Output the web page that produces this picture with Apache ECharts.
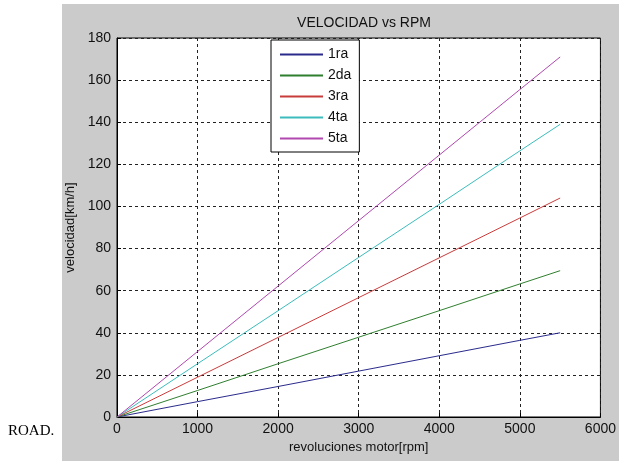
<!DOCTYPE html>
<html>
<head>
<meta charset="utf-8">
<script src="https://cdn.jsdelivr.net/npm/echarts@6/dist/echarts.min.js"></script>
<style>
  html, body { margin: 0; padding: 0; background: #fff; }
  #wrap { position: relative; width: 619px; height: 461px; }
  #bg { position: absolute; left: 62px; top: 4px; width: 557px; height: 457px; background: #cbcbcb; }
  #chart { position: absolute; left: 0; top: 0; width: 619px; height: 461px; }
</style>
</head>
<body>
<div id="wrap"><div id="bg"></div><div id="chart"></div></div>
<script>
// rpm sample points
const rpm = [0, 1000, 2000, 3000, 4000, 5000, 5500];
// speeds [km/h] per gear
const gear1 = [0, 7.3, 14.5, 21.8, 29.1, 36.4, 40];
const gear2 = [0, 12.6, 25.3, 37.9, 50.5, 63.2, 69.5];
const gear3 = [0, 18.9, 37.8, 56.7, 75.6, 94.5, 104];
const gear4 = [0, 25.3, 50.5, 75.8, 101, 126.4, 139];
const gear5 = [0, 31.1, 62.2, 93.3, 124.4, 155.5, 171];
const seriesNames = ['1ra', '2da', '3ra', '4ta', '5ta'];
const colors = ['#2a2a8c', '#2f7f2f', '#c83c3c', '#3cbcbc', '#b048b0'];
const title = 'VELOCIDAD vs RPM';
const xName = 'revoluciones motor[rpm]';
const yName = 'velocidad[km/h]';

const gears = [gear1, gear2, gear3, gear4, gear5];
const font = 'Liberation Sans, Arial, sans-serif';

const chart = echarts.init(document.getElementById('chart'), null, { renderer: 'canvas' });
chart.setOption({
  backgroundColor: 'transparent',
  animation: false,
  color: colors,
  title: {
    text: title,
    left: 359, top: 11, textAlign: 'center',
    textStyle: { fontFamily: font, fontSize: 14, fontWeight: 'normal', color: '#111' }
  },
  grid: {
    left: 117, top: 38, right: 18, bottom: 44,
    show: true, backgroundColor: '#ffffff', borderColor: '#000', borderWidth: 1
  },
  legend: {
    orient: 'vertical', left: 271, top: 40,
    data: seriesNames,
    icon: 'rect', itemWidth: 43, itemHeight: 2,
    itemGap: 6,
    padding: [7, 8, 6, 9],
    backgroundColor: '#ffffff', borderColor: '#000', borderWidth: 1,
    textStyle: { fontFamily: font, fontSize: 14, color: '#111', lineHeight: 15 }
  },
  xAxis: {
    type: 'value', min: 0, max: 6000, interval: 1000,
    name: xName, nameLocation: 'middle', nameGap: 22,
    nameTextStyle: { fontFamily: font, fontSize: 13, color: '#111' },
    axisLine: { show: true, lineStyle: { color: '#000', width: 1 } },
    axisTick: { show: true, inside: true, length: 4, lineStyle: { color: '#000' } },
    axisLabel: { fontFamily: font, fontSize: 14, color: '#111', margin: 5,
      formatter: v => String(v) },
    splitLine: { show: true, lineStyle: { color: '#222', type: [3, 3], width: 1 } }
  },
  yAxis: {
    type: 'value', min: 0, max: 180, interval: 20,
    name: yName, nameLocation: 'middle', nameGap: 38,
    nameTextStyle: { fontFamily: font, fontSize: 13, color: '#111' },
    axisLine: { show: true, lineStyle: { color: '#000', width: 1 } },
    axisTick: { show: true, inside: true, length: 4, lineStyle: { color: '#000' } },
    axisLabel: { fontFamily: font, fontSize: 14, color: '#111', margin: 6,
      formatter: v => String(v) },
    splitLine: { show: true, lineStyle: { color: '#222', type: [3, 3], width: 1 } }
  },
  graphic: [{
    type: 'text', left: 8, top: 424,
    style: { text: 'ROAD.', font: '15px "Liberation Serif", "Times New Roman", serif', fill: '#000' }
  }],
  series: gears.map((g, i) => ({
    name: seriesNames[i],
    type: 'line',
    data: rpm.map((r, j) => [r, g[j]]),
    symbol: 'none',
    lineStyle: { width: 1, color: colors[i] },
    itemStyle: { color: colors[i] }
  }))
});
</script>
</body>
</html>
